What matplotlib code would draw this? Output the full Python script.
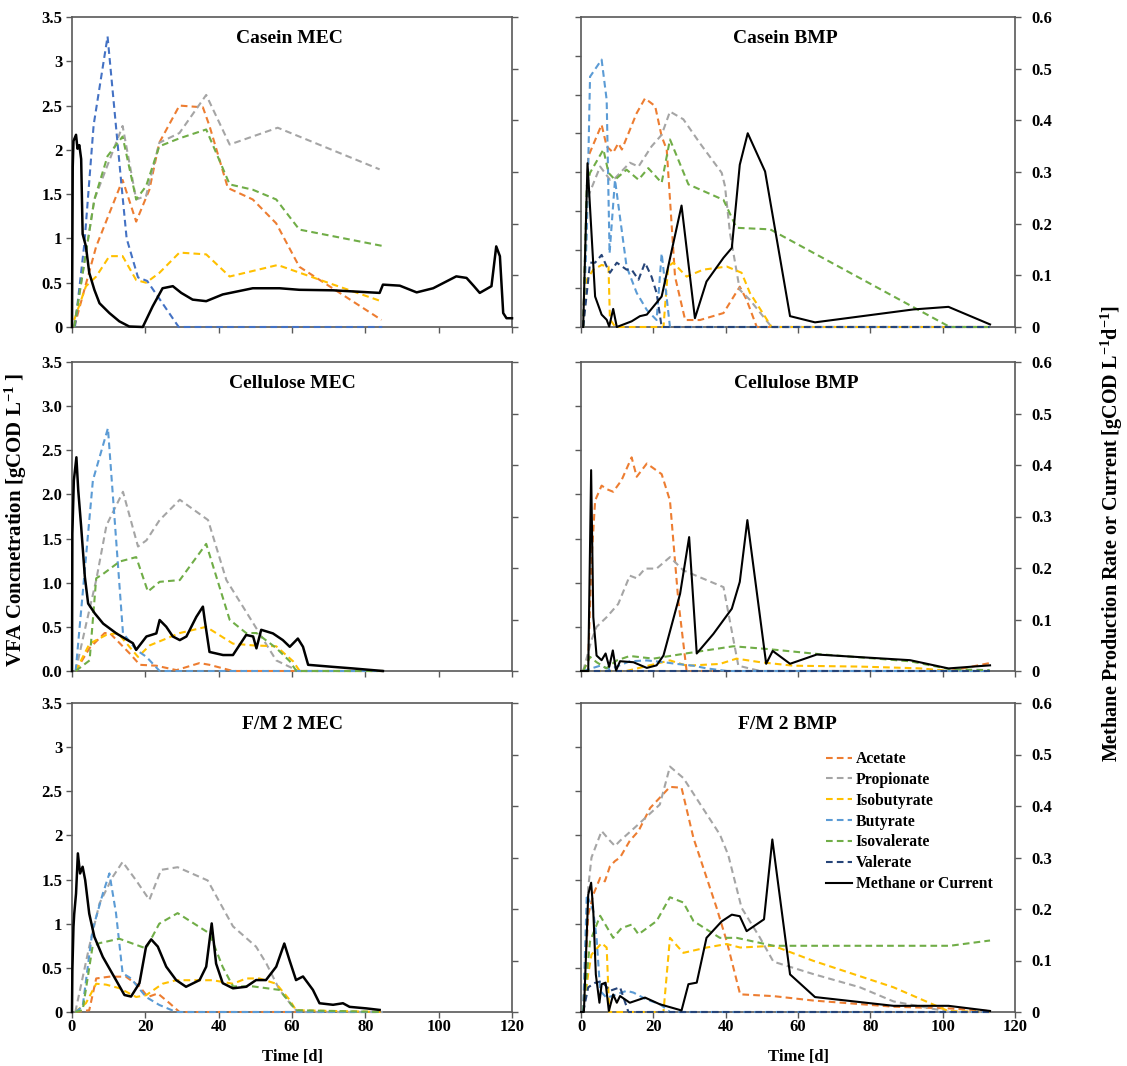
import matplotlib.pyplot as plt
import numpy as np
from matplotlib.lines import Line2D

plt.rcParams["font.family"] = ["Liberation Serif", "DejaVu Serif"]
plt.rcParams["font.weight"] = "bold"
plt.rcParams["mathtext.fontset"] = "custom"
plt.rcParams["mathtext.rm"] = "Liberation Serif:bold"
plt.rcParams["mathtext.bf"] = "Liberation Serif:bold"
plt.rcParams["mathtext.default"] = "bf"

# ---- Casein MEC ----
cas_mec_acetate_t = [0.6, 6.6, 13.8, 17.5, 21.1, 23.8, 29.3, 35.7, 37.5, 42.5, 49.3, 55.7, 62, 84.4]
cas_mec_acetate = [0, 0.91, 1.66, 1.19, 1.55, 2.08, 2.5, 2.48, 2.27, 1.57, 1.44, 1.17, 0.68, 0.08]
cas_mec_propionate_t = [0.6, 6.1, 13.8, 17.5, 20.2, 23.8, 29.3, 36.6, 43, 56.1, 83.9]
cas_mec_propionate = [0, 1.44, 2.27, 1.44, 1.48, 2.08, 2.19, 2.62, 2.06, 2.25, 1.78]
cas_mec_isobutyrate_t = [0.6, 3.8, 6.6, 10.2, 13.8, 17.5, 20.2, 23.8, 29.3, 36.6, 43, 56.1, 71.2, 84.4]
cas_mec_isobutyrate = [0.08, 0.46, 0.57, 0.8, 0.8, 0.53, 0.5, 0.61, 0.84, 0.82, 0.57, 0.7, 0.48, 0.29]
cas_mec_butyrate_t = [0.8, 3.4, 5.9, 9.7, 13.5, 14.9, 18, 20.5, 29.1, 84.6]
cas_mec_butyrate = [0, 0.95, 2.28, 3.28, 1.6, 1.0, 0.56, 0.52, 0, 0]
cas_mec_isovalerate_t = [0.6, 6.1, 9.7, 13.8, 17.5, 20.2, 23.8, 29.3, 36.6, 43, 49.3, 55.7, 62, 85.3]
cas_mec_isovalerate = [0, 1.44, 1.93, 2.15, 1.44, 1.59, 2.04, 2.13, 2.23, 1.61, 1.55, 1.44, 1.1, 0.91]
cas_mec_methane_t = [0, 0.2, 0.4, 1.1, 1.5, 2.0, 2.5, 2.9, 3.8, 4.7, 6.1, 7.5, 10.2, 12.9, 15.6, 19.3,
                     22, 24.7, 27.5, 29.8, 32.9, 36.6, 41.1, 49.3, 56.6, 62, 71.2, 83.9, 84.8, 89.4,
                     94, 98.5, 104.8, 107.6, 109.5, 111.2, 114.4, 115.7, 116.7, 117.6, 118.5, 120]
cas_mec_methane = [0, 0.31, 0.36, 0.372, 0.345, 0.352, 0.325, 0.18, 0.156, 0.105, 0.072, 0.046, 0.027,
                   0.011, 0.001, 0, 0.04, 0.075, 0.079, 0.066, 0.053, 0.05, 0.063, 0.075, 0.075, 0.072,
                   0.071, 0.066, 0.082, 0.08, 0.067, 0.075, 0.098, 0.095, 0.08, 0.066, 0.079, 0.156,
                   0.137, 0.027, 0.017, 0.017]

# ---- Casein BMP (left axis 0-4) ----
cas_bmp_acetate_t = [0.6, 2.0, 5.7, 7.1, 8.9, 10.3, 11.3, 15.4, 17.7, 20.5, 22.3, 23.7, 26, 28.8, 32.9,
                     39.4, 43.9, 45.8, 48.6, 113]
cas_bmp_acetate = [0, 2.2, 2.61, 2.33, 2.25, 2.37, 2.29, 2.76, 2.95, 2.85, 2.46, 2.29, 0.65, 0.09, 0.09,
                   0.18, 0.52, 0.35, 0, 0]
cas_bmp_propionate_t = [0.6, 1.6, 5.3, 8, 9.4, 13.5, 15.9, 19.5, 22.3, 24.6, 28.3, 32.9, 38.9, 39.8,
                        41.2, 43.9, 46.7, 52.7, 113]
cas_bmp_propionate = [0, 1.64, 2.07, 1.9, 1.92, 2.12, 2.07, 2.33, 2.48, 2.78, 2.68, 2.37, 1.99, 1.82,
                      1.21, 0.48, 0.35, 0, 0]
cas_bmp_isobutyrate_t = [0.6, 1.6, 3.4, 5.7, 7.6, 8.0, 9.5, 22.8, 24.1, 25.5, 29.2, 33.8, 40.3, 44.4,
                         46.7, 52.7, 113]
cas_bmp_isobutyrate = [0, 0.61, 0.74, 0.8, 0.78, 0.1, 0, 0, 0.78, 0.83, 0.65, 0.74, 0.78, 0.7, 0.44,
                       0, 0]
cas_bmp_butyrate_t = [0.6, 1.6, 2.5, 5.7, 7.1, 7.9, 9.4, 12.6, 15.4, 18.2, 20.9, 22.3, 24.6, 113]
cas_bmp_butyrate = [0, 1.2, 3.23, 3.45, 2.93, 0.95, 1.9, 0.78, 0.44, 0.22, 0.09, 0.95, 0, 0]
cas_bmp_isovalerate_t = [0.6, 1.6, 2.5, 6.2, 7.6, 9.4, 12.6, 15.9, 18.6, 22.3, 24.6, 29.7, 39.4, 43,
                         52.3, 102, 113]
cas_bmp_isovalerate = [0, 1.82, 1.99, 2.29, 1.99, 1.9, 2.03, 1.9, 2.05, 1.86, 2.42, 1.84, 1.64, 1.28,
                       1.26, 0, 0]
cas_bmp_valerate_t = [0.6, 2.5, 3.9, 5.7, 7.1, 8.0, 9.9, 12.6, 14.0, 15.9, 17.7, 19.5, 20.9, 22.3, 113]
cas_bmp_valerate = [0, 0.83, 0.83, 0.93, 0.78, 0.7, 0.83, 0.74, 0.74, 0.61, 0.83, 0.65, 0.44, 0, 0]
cas_bmp_methane_t = [0.6, 1.8, 3.9, 5.7, 7.1, 7.8, 8.9, 9.9, 14, 16.3, 18.2, 22.3, 27.8, 31.5, 34.7,
                     39.4, 41.7, 43.9, 46.1, 50.9, 57.8, 64.7, 91.9, 101.6, 113.1]
cas_bmp_methane = [0, 0.317, 0.059, 0.024, 0.014, 0.001, 0.035, 0, 0.011, 0.021, 0.024, 0.059, 0.235,
                   0.017, 0.088, 0.134, 0.153, 0.314, 0.375, 0.301, 0.021, 0.009, 0.034, 0.039, 0.005]

# ---- Cellulose MEC ----
cel_mec_acetate_t = [1, 4.8, 8.9, 10.3, 15.7, 18.5, 23, 28.5, 34.8, 37.5, 43.9, 84.8]
cel_mec_acetate = [0, 0.26, 0.43, 0.43, 0.2, 0.07, 0.06, 0.01, 0.09, 0.07, 0, 0]
cel_mec_propionate_t = [1, 3.9, 6.6, 9.4, 13.9, 18, 20.3, 23.9, 29.4, 37.1, 42.1, 46.6, 55.7, 61.7, 84.8]
cel_mec_propionate = [0, 0.54, 1.03, 1.65, 2.03, 1.41, 1.48, 1.71, 1.94, 1.71, 1.03, 0.73, 0.12, 0, 0]
cel_mec_isobutyrate_t = [1, 4.8, 9.4, 12.5, 18, 21.2, 29.4, 36.6, 43.9, 49.4, 55.7, 60.3, 62.1, 84.8]
cel_mec_isobutyrate = [0, 0.31, 0.41, 0.43, 0.16, 0.29, 0.43, 0.5, 0.31, 0.29, 0.28, 0.11, 0, 0]
cel_mec_butyrate_t = [1, 5.7, 9.8, 13.9, 17.5, 20.3, 23.9, 84.8]
cel_mec_butyrate = [0, 2.16, 2.75, 0.43, 0.24, 0.16, 0, 0]
cel_mec_isovalerate_t = [1, 4.8, 6.6, 8.5, 13, 17.5, 20.7, 23.9, 29.4, 36.6, 43, 47.5, 50.3, 55.7, 59.4,
                         61.2, 84.8]
cel_mec_isovalerate = [0, 0.12, 1.05, 1.1, 1.24, 1.29, 0.9, 1.01, 1.03, 1.44, 0.58, 0.43, 0.43, 0.26,
                       0.11, 0, 0]
cel_mec_methane_t = [0, 0.1, 0.5, 1.2, 1.7, 2.5, 3.5, 4.4, 6.2, 8.5, 12.1, 16.6, 17.5, 20.3, 23, 23.9,
                     25.7, 27.5, 29.4, 31.2, 33.9, 35.7, 36.2, 37.5, 41.2, 43.9, 47.5, 49.4, 50.3, 51.6,
                     54.8, 57.5, 59.4, 61.6, 63, 64.4, 71.2, 76.6, 84.8]
cel_mec_methane = [0, 0.267, 0.37, 0.415, 0.351, 0.28, 0.183, 0.131, 0.112, 0.092, 0.073, 0.054, 0.041,
                   0.067, 0.073, 0.099, 0.086, 0.067, 0.06, 0.067, 0.105, 0.125, 0.099, 0.037, 0.031,
                   0.031, 0.07, 0.067, 0.044, 0.08, 0.073, 0.06, 0.047, 0.063, 0.047, 0.012, 0.008,
                   0.005, 0]

# ---- Cellulose BMP ----
cel_bmp_acetate_t = [0.6, 2, 2.9, 3.9, 5.7, 7.1, 8.9, 11.2, 14, 15.4, 18.2, 22.3, 24.6, 26.9, 29.2, 102, 113]
cel_bmp_acetate = [0, 0.12, 1.25, 1.93, 2.1, 2.06, 2.03, 2.16, 2.42, 2.2, 2.35, 2.23, 1.93, 0.8, 0, 0, 0.09]
cel_bmp_propionate_t = [0.6, 2.9, 4.3, 7.1, 10.3, 13.5, 15.4, 17.7, 20.9, 24.6, 28.3, 39.4, 43.5, 49.5, 113]
cel_bmp_propionate = [0, 0.35, 0.5, 0.61, 0.76, 1.08, 1.05, 1.16, 1.16, 1.29, 1.14, 0.95, 0.06, 0, 0]
cel_bmp_isobutyrate_t = [0.6, 12.6, 24.6, 29.2, 38.4, 43, 49.5, 58.7, 77.1, 93.7, 102, 113]
cel_bmp_isobutyrate = [0, 0, 0.12, 0.06, 0.08, 0.14, 0.1, 0.06, 0.05, 0.03, 0, 0]
cel_bmp_butyrate_t = [0.6, 5.3, 8.0, 13.5, 18.2, 22.8, 26.5, 31.1, 34.7, 40.3, 113]
cel_bmp_butyrate = [0, 0.06, 0.02, 0.11, 0.12, 0.1, 0.08, 0.06, 0.03, 0, 0]
cel_bmp_isovalerate_t = [0.6, 2.5, 4.3, 7.0, 9.9, 13.5, 20, 29.2, 42.1, 51.3, 66.1, 91, 102, 113]
cel_bmp_isovalerate = [0, 0.16, 0.1, 0.03, 0.12, 0.17, 0.14, 0.2, 0.28, 0.25, 0.19, 0.11, 0.02, 0.01]
cel_bmp_valerate_t = [0.6, 113]
cel_bmp_valerate = [0, 0]
cel_bmp_methane_t = [0, 2, 2.8, 3.4, 4.3, 5.7, 6.8, 7.8, 8.8, 9.7, 10.8, 14.5, 18.2, 20.9, 22.8, 27.4,
                     29.9, 32, 36.6, 41.7, 43.9, 46, 51.2, 53, 57.8, 65.2, 91, 101.6, 113.1]
cel_bmp_methane = [0, 0, 0.39, 0.105, 0.03, 0.021, 0.034, 0.008, 0.04, 0.001, 0.019, 0.017, 0.006,
                   0.011, 0.03, 0.15, 0.26, 0.034, 0.072, 0.121, 0.173, 0.293, 0.014, 0.039, 0.014,
                   0.032, 0.021, 0.005, 0.011]

# ---- F/M 2 MEC ----
fm_mec_acetate_t = [0.9, 4.7, 6.6, 10.2, 14.7, 18.4, 20.7, 23.4, 26.6, 29.3, 84.8]
fm_mec_acetate = [0, 0.02, 0.38, 0.4, 0.4, 0.29, 0.17, 0.21, 0.1, 0, 0]
fm_mec_propionate_t = [0.9, 4.7, 7.5, 11.1, 13.8, 17.5, 21.1, 24.3, 28.8, 37, 43.9, 50.2, 53, 56.6, 60.2,
                       61.6, 84.8]
fm_mec_propionate = [0, 0.74, 1.23, 1.53, 1.7, 1.49, 1.27, 1.61, 1.64, 1.49, 0.97, 0.74, 0.55, 0.25,
                     0.06, 0, 0]
fm_mec_isobutyrate_t = [0.9, 3.8, 6.6, 9.3, 12.9, 17.5, 20.2, 24.7, 28.4, 38.4, 43.9, 47.5, 51.1, 55.7,
                        59.3, 61.1, 84.8]
fm_mec_isobutyrate = [0, 0.1, 0.32, 0.31, 0.27, 0.17, 0.19, 0.32, 0.36, 0.36, 0.32, 0.38, 0.38, 0.32,
                      0.14, 0.02, 0]
fm_mec_butyrate_t = [0.9, 2.9, 5.6, 8.4, 10.2, 12, 13.8, 16.1, 20.2, 23.8, 28.4, 84.8]
fm_mec_butyrate = [0, 0.06, 0.93, 1.34, 1.57, 1.12, 0.44, 0.38, 0.17, 0.08, 0, 0]
fm_mec_isovalerate_t = [0.9, 2.9, 5.6, 7.5, 12.9, 20.2, 23.8, 28.8, 37.5, 41.1, 43.9, 49.3, 56.6, 61.1, 84.8]
fm_mec_isovalerate = [0, 0.02, 0.74, 0.78, 0.83, 0.72, 1.0, 1.12, 0.89, 0.51, 0.29, 0.29, 0.25, 0.02, 0]
fm_mec_methane_t = [0, 0.1, 0.4, 0.6, 1.1, 1.6, 2.2, 2.9, 3.6, 4.7, 6.1, 8.4, 12, 14.3, 16.1, 18.4,
                    20.2, 21.6, 23.4, 25.7, 28.4, 31.1, 34.8, 36.6, 38.1, 39.3, 41.1, 43.9, 47.5, 50.2,
                    52.9, 55.7, 57.9, 59.3, 61.1, 63, 65.7, 67.5, 71.2, 73.9, 75.7, 80.3, 83.9]
fm_mec_methane = [0, 0.081, 0.165, 0.19, 0.23, 0.308, 0.269, 0.282, 0.256, 0.191, 0.146, 0.107, 0.062,
                  0.033, 0.03, 0.056, 0.127, 0.141, 0.127, 0.088, 0.062, 0.049, 0.062, 0.088, 0.172,
                  0.094, 0.056, 0.046, 0.049, 0.062, 0.062, 0.088, 0.133, 0.101, 0.062, 0.069, 0.043,
                  0.017, 0.014, 0.017, 0.01, 0.007, 0.004]

# ---- F/M 2 BMP ----
fm_bmp_acetate_t = [0.6, 2, 3.4, 5.3, 6.6, 8, 9.4, 10.8, 13.5, 15.9, 19.1, 24.6, 27.8, 31.1, 37.5, 40.3,
                    44, 53.2, 64.2, 86.4, 102, 113.1]
fm_bmp_acetate = [0, 1.1, 1.33, 1.52, 1.48, 1.65, 1.71, 1.75, 1.94, 2.05, 2.31, 2.55, 2.54, 1.97, 1.18,
                  0.8, 0.2, 0.18, 0.13, 0.06, 0.04, 0.01]
fm_bmp_propionate_t = [0.6, 2, 2.9, 5.7, 8, 9.4, 10.8, 14.9, 21.8, 24.6, 28.3, 38.4, 40.7, 44.4, 49.5,
                       53.2, 64.2, 77.1, 86.4, 102, 113.1]
fm_bmp_propionate = [0, 1.41, 1.75, 2.05, 1.94, 1.88, 1.94, 2.09, 2.35, 2.78, 2.65, 2.01, 1.78, 1.18,
                     0.84, 0.57, 0.43, 0.28, 0.12, 0, 0]
fm_bmp_isobutyrate_t = [0.6, 2, 2.9, 5.7, 7.1, 7.8, 22.8, 24.6, 28.3, 34.7, 40.3, 44, 53.2, 64.2, 86.4,
                        101.6, 113.1]
fm_bmp_isobutyrate = [0, 0.43, 0.65, 0.78, 0.73, 0, 0, 0.84, 0.67, 0.73, 0.77, 0.73, 0.75, 0.58, 0.28,
                      0.01, 0]
fm_bmp_butyrate_t = [0.6, 1.6, 3.4, 4.3, 5.3, 7.1, 12.6, 14.5, 18.2, 21.8, 24.6, 113.1]
fm_bmp_butyrate = [0, 1.33, 1.14, 0.84, 0.24, 0.16, 0.24, 0.22, 0.14, 0.09, 0, 0]
fm_bmp_isovalerate_t = [0.6, 2.5, 5.3, 8.9, 11.2, 14, 15.9, 20.9, 24.6, 28.3, 31.1, 38.4, 43, 53.2, 86.4,
                        102, 113.1]
fm_bmp_isovalerate = [0, 0.8, 1.09, 0.84, 0.95, 0.99, 0.88, 1.03, 1.3, 1.24, 1.03, 0.84, 0.84, 0.75,
                      0.75, 0.75, 0.81]
fm_bmp_valerate_t = [0.6, 2, 3.9, 5.7, 8, 10.8, 13.1, 113.1]
fm_bmp_valerate = [0, 0.28, 0.33, 0.35, 0.24, 0.28, 0, 0]
fm_bmp_methane_t = [0, 0.8, 2, 2.8, 3.4, 4.1, 5.1, 5.7, 6.8, 7.7, 8.9, 9.9, 10.8, 13.5, 17.7, 21.8, 27.8,
                    29.7, 32, 34.7, 38.9, 41.7, 43.9, 45.8, 50.6, 52.9, 57.8, 64.7, 86.4, 101.6, 113.1]
fm_bmp_methane = [0, 0, 0.228, 0.251, 0.196, 0.073, 0.018, 0.054, 0.057, 0.002, 0.034, 0.018, 0.031,
                  0.018, 0.028, 0.015, 0.003, 0.054, 0.057, 0.144, 0.176, 0.189, 0.186, 0.157, 0.18,
                  0.335, 0.073, 0.029, 0.012, 0.012, 0.002]

SERIES_NAMES = ["Acetate", "Propionate", "Isobutyrate", "Butyrate", "Isovalerate", "Valerate"]
COLORS = {
    "Acetate": "#ED7D31",
    "Propionate": "#A5A5A5",
    "Isobutyrate": "#FFC000",
    "Butyrate": "#5B9BD5",
    "Isovalerate": "#70AD47",
    "Valerate": "#264478",
}

panels = [
    {"title": "Casein MEC", "col": 0, "row": 0, "tx": 0.495, "ylim": 3.5, "fmt": "{:g}", "mlw": 1.8,
     "butyrate_color": "#4472C4",
     "vfa": {"Acetate": (cas_mec_acetate_t, cas_mec_acetate),
             "Propionate": (cas_mec_propionate_t, cas_mec_propionate),
             "Isobutyrate": (cas_mec_isobutyrate_t, cas_mec_isobutyrate),
             "Butyrate": (cas_mec_butyrate_t, cas_mec_butyrate),
             "Isovalerate": (cas_mec_isovalerate_t, cas_mec_isovalerate)},
     "methane": (cas_mec_methane_t, cas_mec_methane)},
    {"title": "Casein BMP", "col": 1, "row": 0, "tx": 0.47, "ylim": 4.0, "fmt": None, "mlw": 1.5,
     "vfa": {"Acetate": (cas_bmp_acetate_t, cas_bmp_acetate),
             "Propionate": (cas_bmp_propionate_t, cas_bmp_propionate),
             "Isobutyrate": (cas_bmp_isobutyrate_t, cas_bmp_isobutyrate),
             "Butyrate": (cas_bmp_butyrate_t, cas_bmp_butyrate),
             "Isovalerate": (cas_bmp_isovalerate_t, cas_bmp_isovalerate),
             "Valerate": (cas_bmp_valerate_t, cas_bmp_valerate)},
     "methane": (cas_bmp_methane_t, cas_bmp_methane)},
    {"title": "Cellulose MEC", "col": 0, "row": 1, "tx": 0.5, "ylim": 3.5, "fmt": "{:.1f}", "mlw": 1.8,
     "vfa": {"Acetate": (cel_mec_acetate_t, cel_mec_acetate),
             "Propionate": (cel_mec_propionate_t, cel_mec_propionate),
             "Isobutyrate": (cel_mec_isobutyrate_t, cel_mec_isobutyrate),
             "Butyrate": (cel_mec_butyrate_t, cel_mec_butyrate),
             "Isovalerate": (cel_mec_isovalerate_t, cel_mec_isovalerate)},
     "methane": (cel_mec_methane_t, cel_mec_methane)},
    {"title": "Cellulose BMP", "col": 1, "row": 1, "tx": 0.497, "ylim": 3.5, "fmt": None, "mlw": 1.5,
     "vfa": {"Acetate": (cel_bmp_acetate_t, cel_bmp_acetate),
             "Propionate": (cel_bmp_propionate_t, cel_bmp_propionate),
             "Isobutyrate": (cel_bmp_isobutyrate_t, cel_bmp_isobutyrate),
             "Butyrate": (cel_bmp_butyrate_t, cel_bmp_butyrate),
             "Isovalerate": (cel_bmp_isovalerate_t, cel_bmp_isovalerate),
             "Valerate": (cel_bmp_valerate_t, cel_bmp_valerate)},
     "methane": (cel_bmp_methane_t, cel_bmp_methane)},
    {"title": "F/M 2 MEC", "col": 0, "row": 2, "tx": 0.5, "ylim": 3.5, "fmt": "{:g}", "mlw": 1.8,
     "vfa": {"Acetate": (fm_mec_acetate_t, fm_mec_acetate),
             "Propionate": (fm_mec_propionate_t, fm_mec_propionate),
             "Isobutyrate": (fm_mec_isobutyrate_t, fm_mec_isobutyrate),
             "Butyrate": (fm_mec_butyrate_t, fm_mec_butyrate),
             "Isovalerate": (fm_mec_isovalerate_t, fm_mec_isovalerate)},
     "methane": (fm_mec_methane_t, fm_mec_methane)},
    {"title": "F/M 2 BMP", "col": 1, "row": 2, "tx": 0.475, "ylim": 3.5, "fmt": None, "mlw": 1.5,
     "vfa": {"Acetate": (fm_bmp_acetate_t, fm_bmp_acetate),
             "Propionate": (fm_bmp_propionate_t, fm_bmp_propionate),
             "Isobutyrate": (fm_bmp_isobutyrate_t, fm_bmp_isobutyrate),
             "Butyrate": (fm_bmp_butyrate_t, fm_bmp_butyrate),
             "Isovalerate": (fm_bmp_isovalerate_t, fm_bmp_isovalerate),
             "Valerate": (fm_bmp_valerate_t, fm_bmp_valerate)},
     "methane": (fm_bmp_methane_t, fm_bmp_methane)},
]

W, H = 1127, 1066
COL_X = [(72, 440), (581, 434)]
ROW_Y = [(17, 327), (362, 671), (703, 1012)]
SPINE = "#595959"
TICK_FS = 12
DASH = (3.2, 2.0)

fig = plt.figure(figsize=(W / 100, H / 100), dpi=100)

for p in panels:
    x0, w = COL_X[p["col"]]
    top, bot = ROW_Y[p["row"]]
    ax = fig.add_axes([x0 / W, 1 - bot / H, w / W, (bot - top) / H])
    ax2 = ax.twinx()

    for name in SERIES_NAMES:
        if name not in p["vfa"]:
            continue
        t, v = p["vfa"][name]
        color = COLORS[name]
        if name == "Butyrate" and "butyrate_color" in p:
            color = p["butyrate_color"]
        ax.plot(t, v, color=color, lw=1.5, dashes=DASH, clip_on=False, zorder=3)

    mt, mv = p["methane"]
    ax2.plot(mt, mv, color="black", lw=p["mlw"], clip_on=False, zorder=3)

    ax.set_xlim(0, 120)
    ax.set_ylim(0, p["ylim"])
    ax.set_yticks(np.arange(0, p["ylim"] + 0.01, 0.5))
    ax2.set_ylim(0, 0.6)
    ax2.set_yticks(np.round(np.arange(0, 0.61, 0.1), 1))
    ax.set_xticks(np.arange(0, 121, 20))

    if p["fmt"] is not None:
        ax.set_yticklabels([p["fmt"].format(v) for v in ax.get_yticks()])
        ax2.set_yticklabels([])
    else:
        ax.set_yticklabels([])
        ax2.set_yticklabels(["{:g}".format(v) for v in ax2.get_yticks()])

    if p["row"] == 2:
        ax.set_xticklabels([str(v) for v in range(0, 121, 20)])
        ax.set_xlabel("Time [d]", fontsize=12, fontweight="bold", labelpad=10)
    else:
        ax.set_xticklabels([])

    # the twin carries only the right spine, the base axes the other three
    ax.spines["right"].set_visible(False)
    for side in ("left", "top", "bottom"):
        ax2.spines[side].set_visible(False)
    for a in (ax, ax2):
        for s in a.spines.values():
            s.set_color(SPINE)
            s.set_linewidth(1.2)
            s.set_zorder(2.5)
        a.tick_params(length=4, width=1.0, color=SPINE, labelsize=TICK_FS, pad=3)
    ax.tick_params(axis="x", pad=1)
    ax2.tick_params(axis="y", pad=8)

    ax.text(p["tx"], 0.93, p["title"], transform=ax.transAxes, ha="center", va="center",
            fontsize=14, fontweight="bold")

    if p["title"] == "F/M 2 BMP":
        handles = [Line2D([], [], color=COLORS[n], lw=1.5, dashes=DASH) for n in SERIES_NAMES]
        handles.append(Line2D([], [], color="black", lw=1.5))
        labels = SERIES_NAMES + ["Methane or Current"]
        ax2.legend(handles, labels, loc="upper left", bbox_to_anchor=((826 - x0) / w, (1012 - 751) / 309),
                   frameon=False, fontsize=11.3, handlelength=1.65, handletextpad=0.25,
                   labelspacing=0.31, borderpad=0, borderaxespad=0)

fig.text(16 / W, 1 - 520 / H, "VFA Concnetration [gCOD L$^{-1}$ ]", rotation=90, ha="center",
         va="center", fontsize=15, fontweight="bold")
fig.text(1112 / W, 1 - 534 / H, "Methane Production Rate or Current [gCOD L$^{-1}$d$^{-1}$]",
         rotation=90, ha="center", va="center", fontsize=14.5, fontweight="bold")

fig.savefig("out.png", dpi=100)
